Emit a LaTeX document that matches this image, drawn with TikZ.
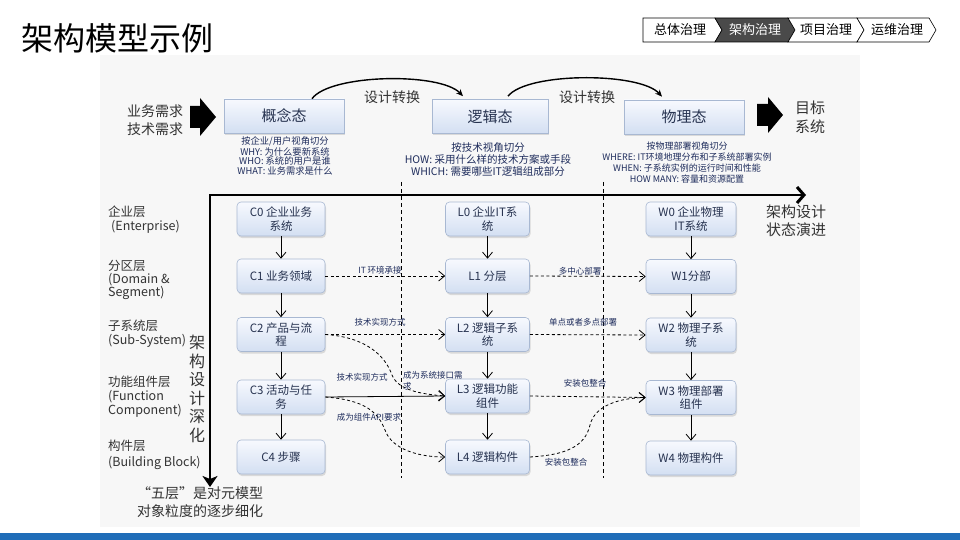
\documentclass[tikz,border=0pt]{standalone}
\usepackage{fontspec}
\setmainfont{Noto Sans CJK SC}
\usetikzlibrary{arrows.meta,shadows}
\definecolor{navy}{HTML}{26324F}
\definecolor{descc}{HTML}{1E2C5C}
\definecolor{panel}{HTML}{F7F7F7}
\definecolor{boxtop}{HTML}{F7F9FE}
\definecolor{boxbot}{HTML}{D3DFF2}
\definecolor{boxline}{HTML}{A8B8D2}
\definecolor{barblue}{HTML}{1F6DB8}
\definecolor{tabdark}{HTML}{4A4A4A}
\definecolor{lab}{HTML}{333333}
\tikzset{
  fs/.style={font=\fontsize{#1}{#1}\selectfont},
  statebox/.style={draw=boxline, line width=0.6pt, top color=boxtop, bottom color=boxbot,
    minimum width=120pt, minimum height=34pt, text=navy, font=\fontsize{15}{18}\selectfont,
    drop shadow={opacity=0.25, shadow xshift=1pt, shadow yshift=-2pt}},
  layerbox/.style={draw=boxline, line width=0.6pt, top color=boxtop, bottom color=boxbot,
    rounded corners=4pt, minimum height=34pt, text=navy, align=center, inner sep=1pt,
    font=\fontsize{11.5}{13.5}\selectfont,
    drop shadow={opacity=0.25, shadow xshift=1pt, shadow yshift=-2pt}},
  ccol/.style={layerbox, minimum width=88pt},
  lcol/.style={layerbox, minimum width=84pt},
  wcol/.style={layerbox, minimum width=90pt},
  desc/.style={text=descc, align=center, inner sep=0pt},
  layer/.style={anchor=west, align=left, text=lab, inner sep=0pt, font=\fontsize{12.5}{14}\selectfont},
  lbl/.style={text=descc, inner sep=0pt, font=\fontsize{8.5}{11}\selectfont},
  varrow/.style={line width=0.8pt, -{Straight Barb[length=6pt,width=10pt]}},
  darrow/.style={line width=0.8pt, dash pattern=on 3pt off 2.5pt, -{Straight Barb[length=6pt,width=10pt]}},
  sarrow/.style={line width=0.8pt, -{Straight Barb[length=6pt,width=10pt]}},
  vdash/.style={line width=0.8pt, dash pattern=on 4pt off 3pt},
  axis/.style={line width=2.6pt, {Stealth[length=11pt,width=15pt,inset=3pt]}-{Straight Barb[length=7pt,width=16pt,line width=3pt]}},
  transf/.style={line width=1.4pt, -{Stealth[length=7pt,width=6pt]}},
  tab/.style={draw=black, line width=0.6pt},
}
\begin{document}
\begin{tikzpicture}[x=1pt,y=-1pt]
\useasboundingbox (0,0) rectangle (960,540);
\fill[white] (0,0) rectangle (960,540);
\fill[panel] (100,55) rectangle (860,527);
\fill[barblue] (0,533) rectangle (960,540);

% title
\node[anchor=west, inner sep=0pt, fs=32] (title) at (21,38) {架构模型示例};

% nav tabs
\draw[tab, fill=white] (643,18) -- (715,18) -- (722,30) -- (715,42) -- (643,42) -- cycle;
\draw[tab, fill=tabdark] (715,18) -- (788,18) -- (795,30) -- (788,42) -- (715,42) -- (722,30) -- cycle;
\draw[tab, fill=white] (788,18) -- (857,18) -- (864,30) -- (857,42) -- (788,42) -- (795,30) -- cycle;
\draw[tab, fill=white] (857,18) -- (929,18) -- (936,30) -- (929,42) -- (857,42) -- (864,30) -- cycle;
\node[fs=13, inner sep=0pt] (t1) at (680,30) {总体治理};
\node[fs=13, inner sep=0pt, text=white] (t2) at (755,30) {架构治理};
\node[fs=13, inner sep=0pt] (t3) at (826,30) {项目治理};
\node[fs=13, inner sep=0pt] (t4) at (897,30) {运维治理};

% inputs / outputs
\node[align=center, inner sep=0pt, font=\fontsize{14}{18}\selectfont, text=lab] (req) at (155,120) {业务需求\\技术需求};
\fill[black] (190,106) -- (200,106) -- (200,98) -- (216,117) -- (200,136) -- (200,128) -- (190,128) -- cycle;
\fill[black] (757,104) -- (768,104) -- (768,97) -- (783,115) -- (768,133) -- (768,126) -- (757,126) -- cycle;
\node[align=center, inner sep=0pt, font=\fontsize{15}{19}\selectfont, text=lab] (target) at (810,117) {目标\\系统};

% state boxes
\node[statebox] (concept) at (284,116) {概念态};
\node[statebox, minimum width=116pt] (logical) at (490,116.5) {逻辑态};
\node[statebox] (physical) at (684,117) {物理态};

\draw[transf] ([xshift=28pt]concept.north) .. controls (330,74) and (440,72) .. ([xshift=-27pt, yshift=3pt]logical.north);
\draw[transf] ([xshift=18pt, yshift=3pt]logical.north) .. controls (527,72) and (640,72) .. ([xshift=-22pt, yshift=3pt]physical.north);
\node[fs=14, text=lab, inner sep=0pt] (tr1) at (392,97) {设计转换};
\node[fs=14, text=lab, inner sep=0pt] (tr2) at (587,97) {设计转换};

\node[desc, font=\fontsize{9.3}{9.5}\selectfont] (cdesc) at (285,156) {按企业/用户视角切分\\WHY: 为什么要新系统\\WHO: 系统的用户是谁\\WHAT: 业务需求是什么};
\node[desc, font=\fontsize{10.5}{12}\selectfont] (ldesc) at (488,160) {按技术视角切分\\HOW: 采用什么样的技术方案或手段\\WHICH: 需要哪些IT逻辑组成部分};
\node[desc, font=\fontsize{9}{11}\selectfont] (pdesc) at (687,162.5) {按物理部署视角切分\\WHERE: IT环境地理分布和子系统部署实例\\WHEN: 子系统实例的运行时间和性能\\HOW MANY: 容量和资源配置};

% dashed separators
\coordinate (s1t) at (401,182); \coordinate (s1b) at (401,478);
\coordinate (s2t) at (603,182); \coordinate (s2b) at (603,478);
\draw[vdash] (s1t) -- (s1b);
\draw[vdash] (s2t) -- (s2b);

% axes
\coordinate (o) at (210,195);
\coordinate (xe) at (806,195);
\coordinate (ye) at (210,487);
\draw[axis] (ye) -- (o) -- (xe);
\node[align=center, inner sep=0pt, font=\fontsize{15}{17.5}\selectfont, text=lab] (evo) at (796,221) {架构设计\\状态演进};
\node[align=center, inner sep=0pt, font=\fontsize{16}{18.5}\selectfont, text=lab] (deep) at (197,389) {架\\构\\设\\计\\深\\化};
\node[align=center, inner sep=0pt, font=\fontsize{14}{18}\selectfont, text=lab] (five) at (200,502) {“五层”是对元模型\\对象粒度的逐步细化};

% layer labels
\node[layer] (ly0) at (108,219.5) {企业层\\\hspace{3pt}(Enterprise)};
\node[layer, font=\fontsize{12.5}{13}\selectfont] (ly1) at (108,280) {分区层\\(Domain \&\\Segment)};
\node[layer] (ly2) at (108,334) {子系统层\\(Sub-System)};
\node[layer] (ly3) at (108,397) {功能组件层\\(Function\\Component)};
\node[layer, font=\fontsize{12.5}{15.5}\selectfont] (ly4) at (108,455) {构件层\\(Building Block)};

% columns
\node[ccol] (C0) at (281,219) {C0 企业业务\\系统};
\node[ccol] (C1) at (281,276) {C1 业务领域};
\node[ccol] (C2) at (281,334.5) {C2 产品与流\\程};
\node[ccol] (C3) at (281,397) {C3 活动与任\\务};
\node[ccol] (C4) at (281,457) {C4 步骤};

\node[lcol] (L0) at (487.5,219) {L0 企业IT系\\统};
\node[lcol] (L1) at (487.5,276) {L1 分层};
\node[lcol] (L2) at (487.5,334.5) {L2 逻辑子系\\统};
\node[lcol] (L3) at (487.5,396) {L3 逻辑功能\\组件};
\node[lcol] (L4) at (487.5,457) {L4 逻辑构件};

\node[wcol] (W0) at (691,219) {W0 企业物理\\IT系统};
\node[wcol] (W1) at (691,276.5) {W1分部};
\node[wcol] (W2) at (691,335) {W2 物理子系\\统};
\node[wcol] (W3) at (691,397.5) {W3 物理部署\\组件};
\node[wcol] (W4) at (691,458) {W4 物理构件};

\foreach \c in {C,L,W}{
  \draw[varrow] (\c0) -- (\c1);
  \draw[varrow] (\c1) -- (\c2);
  \draw[varrow] (\c2) -- (\c3);
  \draw[varrow] (\c3) -- (\c4);
}

% cross-column connectors
\draw[darrow] (C1.east) -- (L1.west);
\draw[darrow] (L1.east) -- (W1.west);
\draw[darrow] (C2.east) -- (L2.west);
\draw[darrow] (L2.east) -- (W2.west);
\draw[sarrow] (C3.east) -- (L3.west);
\draw[darrow] (L3.east) -- (W3.west);
\draw[darrow] (C2.east) .. controls (365,337) and (385,355) .. (392,375) .. controls (398,390) and (420,394) .. (L3.west);
\draw[darrow] (C3.east) .. controls (365,400) and (378,412) .. (385,430) .. controls (392,450) and (420,457) .. (L4.west);
\draw[darrow] (L4.east) .. controls (565,455) and (585,447) .. (590,425) .. controls (595,405) and (620,398) .. (W3.west);

\node[lbl] (a1) at (380,270) {IT 环境承接};
\node[lbl] (a2) at (580,271) {多中心部署};
\node[lbl] (a3) at (380,322) {技术实现方式};
\node[lbl] (a4) at (583,322) {单点或者多点部署};
\node[lbl] (a5) at (362,377) {技术实现方式};
\node[lbl, anchor=north west, align=left] (a6) at (403,371.5) {成为系统接口需\\求};
\node[lbl] (a7) at (369,417) {成为组件API要求};
\node[lbl] (a8) at (585,383) {安装包整合};
\node[lbl] (a9) at (566,462) {安装包整合};
\end{tikzpicture}
\end{document}
